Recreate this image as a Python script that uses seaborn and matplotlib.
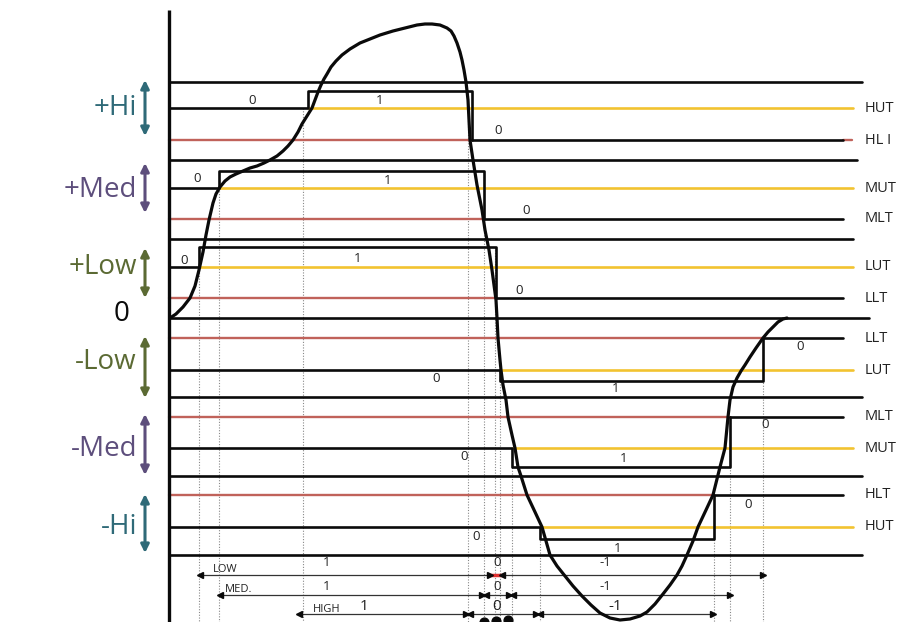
import numpy as np
import pandas as pd
import seaborn as sns
import matplotlib.pyplot as plt

# ---------------- data (y grows downward) ----------------
# band separator lines and the zero line
band_edges = [82, 160, 239, 318, 397, 476, 555]
edge_ends = [862, 857, 853, 869, 862, 862, 862]

# threshold pairs of every band: upper threshold, lower threshold, switch on / off x, output level
band_names = ['+Hi', '+Med', '+Low', '-Low', '-Med', '-Hi']
upper_thr = [108, 188, 267, 370, 448, 527]
lower_thr = [140, 219, 298, 338, 417, 495]
switch_on = [308, 219, 199, 500, 512, 540]
switch_off = [472, 484, 496, 763, 730, 714]
box_level = [91, 171, 247, 381, 467, 539]
upper_names = ['HUT', 'MUT', 'LUT', 'LUT', 'MUT', 'HUT']
lower_names = ['HL I', 'MLT', 'LLT', 'LLT', 'MLT', 'HLT']

# the signal
curve_x = [170, 176, 183, 190, 195, 199, 203, 206, 209, 213, 216, 220, 225, 230, 236, 243,
           250, 257, 264, 270, 277, 283, 288, 293, 298, 302, 307, 312, 315, 318, 321, 324,
           327, 331, 336, 342, 350, 360, 370, 380, 393, 405, 417, 425, 432, 440, 447, 451,
           454, 457, 460, 462, 464, 466, 468, 469, 470, 473, 477, 482, 485, 489, 492, 494,
           496, 497, 498, 500, 501, 503, 506, 508, 512, 515, 518, 521, 527, 535, 542, 550,
           557, 565, 573, 582, 591, 600, 610, 620, 630, 640, 647, 655, 663, 670, 677, 682,
           687, 693, 698, 706, 713, 720, 725, 728, 730, 733, 737, 741, 745, 750, 756, 763,
           768, 773, 778, 783, 787]
curve_y = [318, 314, 307, 298, 286, 270, 252, 235, 220, 203, 194, 187, 181, 177, 174, 171,
           168, 166, 163, 160, 156, 151, 146, 140, 132, 124, 116, 108, 100, 92, 85, 79,
           74, 67, 61, 55, 49, 43, 39, 35, 31, 28, 25, 24, 24, 25, 28, 31,
           36, 43, 52, 60, 70, 82, 100, 120, 140, 160, 185, 210, 230, 250, 270, 285,
           300, 318, 338, 360, 370, 385, 400, 417, 435, 448, 467, 476, 495, 512, 527, 555,
           566, 576, 586, 596, 605, 613, 618, 620, 619, 616, 612, 604, 594, 585, 575, 566,
           555, 541, 527, 510, 495, 467, 448, 417, 400, 387, 378, 371, 365, 357, 348, 338,
           332, 327, 322, 319, 318]

# crossing marks carried down to the bottom rulers
drop_x = [199, 219, 303, 468, 484, 495, 500, 512, 540, 714, 730, 763]
drop_y = [267, 188, 108, 90, 171, 247, 370, 448, 527, 495, 417, 338]

# bottom rulers: LOW / MED. / HIGH
ruler_names = ['LOW', 'MED.', 'HIGH']
ruler_start = [200, 220, 299]
ruler_end = [763, 730, 713]
ruler_zero = [(490, 502), (484, 511), (468, 538)]
ruler_vals = ['1', '0', '-1']

# 0 / 1 state labels near every staircase
state_text = ['0', '1', '0', '0', '1', '0', '0', '1', '0',
              '0', '1', '0', '0', '1', '0', '0', '1', '0']
state_x = [252, 380, 498, 197, 388, 526, 184, 358, 519,
           436, 616, 800, 464, 624, 765, 476, 618, 748]
state_y = [101, 101, 131, 179, 181, 211, 261, 258, 291,
           378, 389, 346, 456, 458, 425, 537, 549, 505]

# ---------------- drawing ----------------
sns.set_style('white')
plt.rcParams['font.family'] = ['Open Sans', 'DejaVu Sans']

fig = plt.figure(figsize=(9.06, 6.22), dpi=100)
ax = fig.add_axes([0, 0, 1, 1])
ax.set_xlim(0, 906)
ax.set_ylim(622, 0)
ax.axis('off')

black = '#0a0a0a'
yellow = '#f2c330'
red = '#c0625a'
x0 = 169
label_colors = ['#2f6a78', '#5d4e7c', '#5b6a33', '#5b6a33', '#5d4e7c', '#2f6a78']

# y axis
ax.plot([x0, x0], [10, 622], color=black, lw=2.4, solid_capstyle='butt', zorder=5)

# band separators
for y, xe in zip(band_edges, edge_ends):
    ax.plot([x0, xe], [y, y], color=black, lw=1.9, zorder=2)

# thresholds and staircases
for i in range(len(band_names)):
    up, lo = upper_thr[i], lower_thr[i]
    on, off, bx = switch_on[i], switch_off[i], box_level[i]
    ax.plot([x0, off], [lo, lo], color=red, lw=1.7, zorder=2)
    ax.plot([off, 843], [lo, lo], color=black, lw=1.9, zorder=3)
    if i == 0:
        ax.plot([843, 852], [lo, lo], color=red, lw=1.7, zorder=2)
    ax.plot([on, 853], [up, up], color=yellow, lw=1.9, zorder=2)
    ax.plot([x0, on, on, off, off], [up, up, bx, bx, lo],
            color=black, lw=1.9, zorder=3)
    ax.text(865, up, upper_names[i], fontsize=10.5, va='center', ha='left', color='#222222')
    ax.text(865, lo, lower_names[i], fontsize=10.5, va='center', ha='left', color='#222222')

# state labels
for t, x, y in zip(state_text, state_x, state_y):
    ax.text(x, y, t, fontsize=9.5, ha='center', va='center', color='#222222')

# dotted drop lines
for x, y in zip(drop_x, drop_y):
    ax.plot([x, x], [y, 622], color='#888888', lw=0.8, ls=(0, (1, 1.5)), zorder=1)

# the signal
sig = pd.DataFrame({'x': curve_x, 'y': curve_y})
sns.lineplot(data=sig, x='x', y='y', sort=False, color=black, lw=2.3, ax=ax, zorder=6)
ax.lines[-1].set_solid_joinstyle('round')

# left band labels with double arrows
label_y = [108, 190, 267, 362, 449, 527]
arrow_span = [(80, 136), (163, 213), (248, 298), (336, 398), (414, 475), (494, 553)]
for name, y, (a, b), c in zip(band_names, label_y, arrow_span, label_colors):
    ax.text(137, y, name, fontsize=20, ha='right', va='center', color=c)
    ax.annotate('', xy=(145, a), xytext=(145, b),
                arrowprops=dict(arrowstyle='<|-|>', color=c, lw=2.2,
                                mutation_scale=12, shrinkA=0, shrinkB=0))
ax.text(122, 314, '0', fontsize=20, ha='center', va='center', color=black)

# bottom rulers
ruler_y = [575, 595, 614]
name_x = [213, 225, 313]
val_x = [[327, 497, 605], [327, 497, 605], [364, 497, 615]]
val_dy = [-12, -9, -7]
for k in range(3):
    y = ruler_y[k]
    z0, z1 = ruler_zero[k]
    ax.plot([ruler_start[k], ruler_end[k]], [y, y], color='#333333', lw=0.9, zorder=4)
    ax.plot([ruler_start[k]], [y], marker='<', ms=5, color=black, zorder=7)
    ax.plot([ruler_end[k]], [y], marker='>', ms=5, color=black, zorder=7)
    if k == 0:
        ax.plot([z0, z1], [y, y], color='#e03030', lw=2.5, zorder=7)
        ax.plot([z0], [y], marker='>', ms=4, color=black, zorder=7)
        ax.plot([z1], [y], marker='<', ms=4, color=black, zorder=7)
    else:
        for z in (z0, z1):
            ax.plot([z - 2], [y], marker='>', ms=4, color=black, zorder=7)
            ax.plot([z + 2], [y], marker='<', ms=4, color=black, zorder=7)
    ax.text(name_x[k], y - 5, ruler_names[k], fontsize=8, ha='left', va='center', color='#222222')
    for v, vx in zip(ruler_vals, val_x[k]):
        ax.text(vx, y + val_dy[k], v, fontsize=9.5 if k < 2 else 11, ha='center',
                va='center', color='#222222')

# three dots under the HIGH ruler
ax.scatter([484, 496, 508], [622, 621, 620], s=40, color=black, zorder=7, clip_on=True)

fig.savefig('out.png', dpi=100, facecolor='white')
